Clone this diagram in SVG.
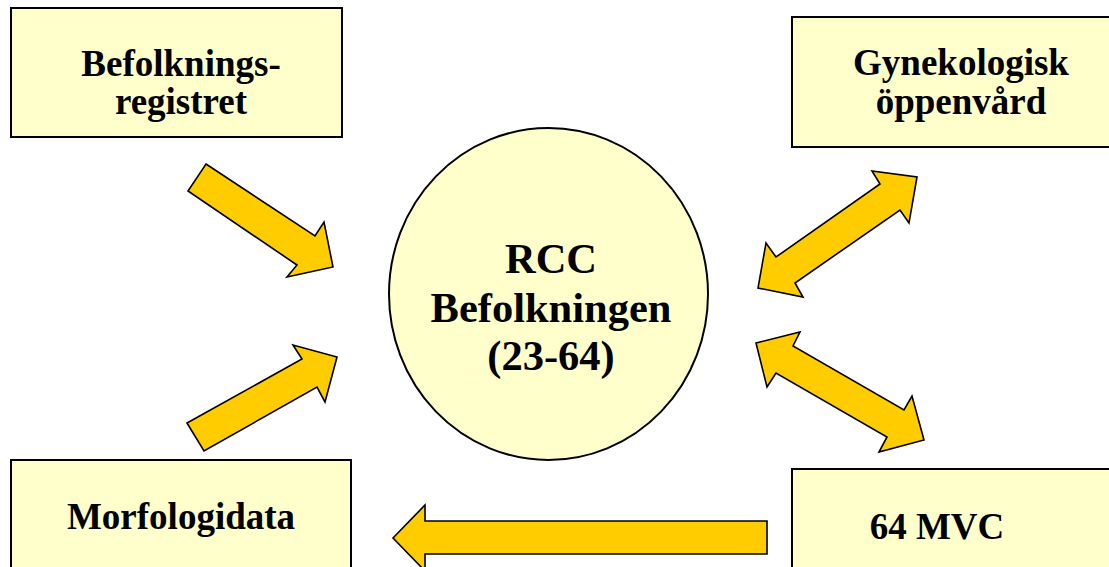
<svg xmlns="http://www.w3.org/2000/svg" width="1109" height="567" viewBox="0 0 1109 567">
<style>
.box{fill:#FFFFCC;stroke:#000;stroke-width:2}
.arrow{fill:#FFCC00;stroke:#000;stroke-width:1.6;stroke-linejoin:miter}
.t{font-family:"Liberation Serif","Times New Roman",serif;font-weight:bold;font-size:37px;fill:#000;text-anchor:middle}
.tc{font-size:42.5px}
</style>
<rect x="0" y="0" width="1109" height="567" fill="#fff"/>
<g id="befolkningsregistret">
<rect class="box" x="11" y="8" width="331" height="129"/>
<text class="t" x="181" y="76">Befolknings-</text>
<text class="t" x="181" y="114">registret</text>
</g>
<g id="gynekologisk">
<rect class="box" x="792" y="17" width="330" height="130"/>
<text class="t" x="961" y="75">Gynekologisk</text>
<text class="t" x="961" y="114">öppenvård</text>
</g>
<g id="morfologidata">
<rect class="box" x="11" y="460" width="340" height="120"/>
<text class="t" x="181" y="529">Morfologidata</text>
</g>
<g id="mvc">
<rect class="box" x="792" y="469" width="330" height="120"/>
<text class="t" x="937" y="539">64 MVC</text>
</g>
<g id="rcc">
<ellipse class="box" cx="548.5" cy="294" rx="159.5" ry="166" stroke-width="1.6"/>
<text class="t tc" x="551" y="273">RCC</text>
<text class="t tc" x="551" y="322">Befolkningen</text>
<text class="t tc" x="551" y="370">(23-64)</text>
</g>
<g id="connectors">
<polygon class="arrow" points="206,164 315,236 324,222 333,267 287,277 297,265 188,191"/>
<polygon class="arrow" points="187,423 302,359 293,345 337,357 325,402 317,387 204,451"/>
<polygon class="arrow" points="917,177 909,223 900,210 795,283 803,297 758,288 766,243 776,257 880,184 872,171"/>
<polygon class="arrow" points="756,343 800,332 793,346 904,410 912,396 924,440 879,452 887,437 776,373 767,387"/>
<polygon class="arrow" points="393,538 425,505 425,521 767,521 767,554 425,554 425,571"/>
</g>
</svg>
